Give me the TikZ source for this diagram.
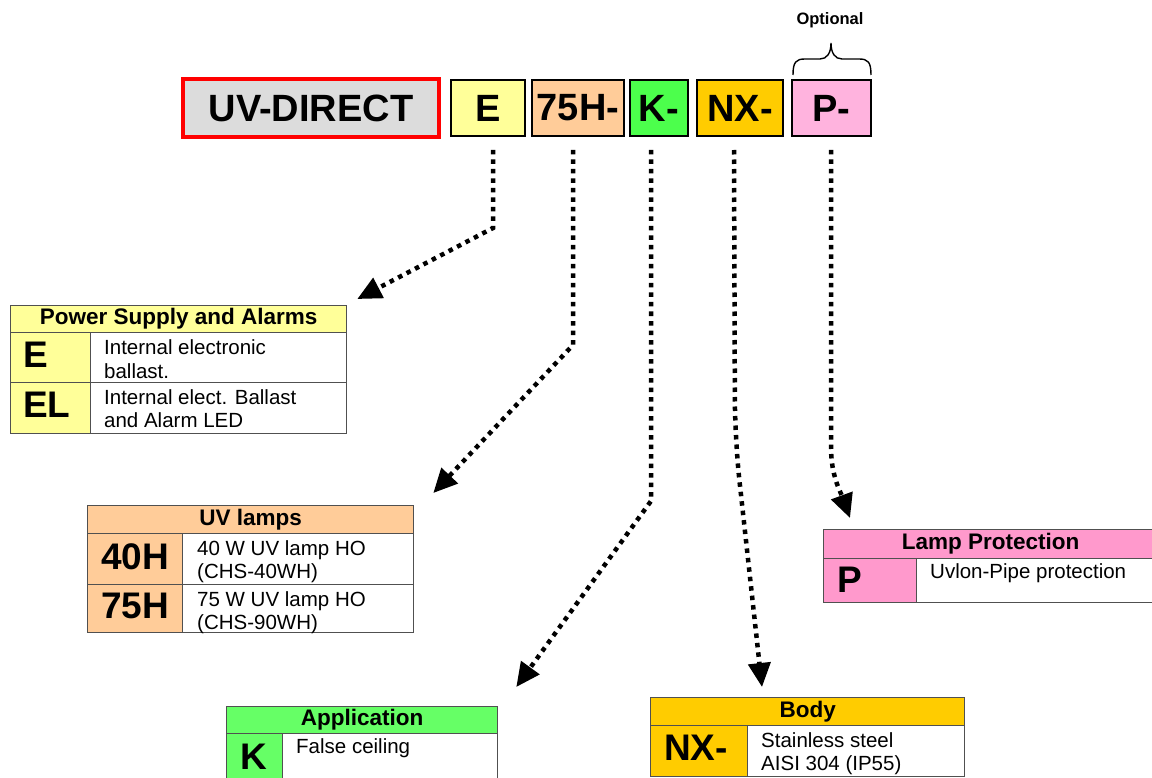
\documentclass[tikz,border=0pt]{standalone}
\usepackage{fontspec}
\setmainfont{Liberation Sans}
\usetikzlibrary{arrows.meta,calc}
\definecolor{cYel}{HTML}{FFFF99}
\definecolor{cOra}{HTML}{FFCC99}
\definecolor{cGrnTop}{HTML}{4CFF4C}
\definecolor{cGrn}{HTML}{66FF66}
\definecolor{cGold}{HTML}{FFCC00}
\definecolor{cPinkTop}{HTML}{FFB3DE}
\definecolor{cPink}{HTML}{FF99CC}
\definecolor{cGray}{HTML}{DCDCDC}
\definecolor{cRed}{HTML}{FF0000}
\definecolor{cLine}{HTML}{505050}
\newcommand\fTop{\fontsize{38}{40}\selectfont\bfseries}
\newcommand\fCode{\fontsize{37}{40}\selectfont\bfseries}
\newcommand\fHead{\fontsize{22.5}{25}\selectfont\bfseries}
\newcommand\fDesc{\fontsize{20.5}{23.5}\selectfont}
\newcommand\fOpt{\fontsize{16.5}{18}\selectfont\bfseries}
\begin{document}
\begin{tikzpicture}[x=1pt,y=-1pt,
 topbox/.style={draw=black, line width=2pt, inner sep=0pt, minimum height=56pt, font=\fTop},
 cell/.style={draw=cLine, line width=1.3pt, inner sep=0pt, anchor=north west},
 hdr/.style={cell, font=\fHead},
 codetxt/.style={inner sep=0pt, anchor=west, font=\fCode},
 desctxt/.style={inner sep=0pt, anchor=north west, font=\fDesc, align=left},
 darr/.style={line width=4.5pt, dash pattern=on 4.5pt off 5pt, -{Triangle[length=24pt,width=22pt]}},
]
\useasboundingbox (0,0) rectangle (1152,778);
\clip (0,0) rectangle (1152,778);

% ---- top code boxes ----
\node[topbox, draw=cRed, line width=4pt, fill=cGray, minimum width=256pt, minimum height=58pt] (bUV) at (311,108) {UV-DIRECT};
\node[topbox, fill=cYel, minimum width=74pt] (bE) at (488,108) {E};
\node[topbox, fill=cOra, minimum width=92pt] (bH) at (578,108) {75H-};
\node[topbox, fill=cGrnTop, minimum width=58pt] (bK) at (659,108) {K-};
\node[topbox, fill=cGold, minimum width=86pt] (bNX) at (740,108) {NX-};
\node[topbox, fill=cPinkTop, minimum width=79pt] (bP) at (831.5,108) {P-};

% optional brace
\node[font=\fOpt, inner sep=0pt, anchor=base] (opt) at (830,25) {Optional};
\draw[line width=1.4pt] (793,75) .. controls (793,62) and (796,59) .. (805,59) -- (820,59)
  .. controls (827,59) and (831,53) .. (831,43)
  .. controls (831,53) and (835,59) .. (842,59) -- (859,59)
  .. controls (868,59) and (871,62) .. (871,75);

% ---- Power Supply and Alarms ----
\node[hdr, fill=cYel, minimum width=336pt, minimum height=27pt] (psHead) at (10,305) {Power Supply and Alarms};
\node[cell, fill=cYel, minimum width=80pt, minimum height=50pt] (psC1) at (10,332) {};
\node[cell, minimum width=256pt, minimum height=50pt] (psD1) at (90,332) {};
\node[cell, fill=cYel, minimum width=80pt, minimum height=51pt] (psC2) at (10,382) {};
\node[cell, minimum width=256pt, minimum height=51pt] (psD2) at (90,382) {};
\node[codetxt] (psE) at (23,355) {E};
\node[codetxt] (psEL) at (23,405) {EL};
\node[desctxt] (psT1) at (104,339.5) {Internal electronic\\ballast.};
\node[desctxt] (psT2) at (104,389) {Internal elect. Ballast\\and Alarm LED};

% ---- UV lamps ----
\node[hdr, fill=cOra, minimum width=326pt, minimum height=28pt] (uvHead) at (87,505) {UV lamps};
\node[cell, fill=cOra, minimum width=95pt, minimum height=51pt] (uvC1) at (87,533) {};
\node[cell, minimum width=231pt, minimum height=51pt] (uvD1) at (182,533) {};
\node[cell, fill=cOra, minimum width=95pt, minimum height=48pt] (uvC2) at (87,584) {};
\node[cell, minimum width=231pt, minimum height=48pt] (uvD2) at (182,584) {};
\node[codetxt] (uv40) at (101,557) {40H};
\node[codetxt] (uv75) at (101,606) {75H};
\node[desctxt] (uvT1) at (197,540) {40 W UV lamp HO\\(CHS-40WH)};
\node[desctxt] (uvT2) at (197,591) {75 W UV lamp HO\\(CHS-90WH)};

% ---- Application ----
\node[hdr, fill=cGrn, minimum width=271pt, minimum height=27pt] (apHead) at (226,706) {Application};
\node[cell, fill=cGrn, minimum width=56pt, minimum height=80pt] (apC1) at (226,733) {};
\node[cell, minimum width=215pt, minimum height=80pt] (apD1) at (282,733) {};
\node[codetxt] (apK) at (240,757) {K};
\node[desctxt] (apT1) at (296,738) {False ceiling};

% ---- Body ----
\node[hdr, fill=cGold, minimum width=314pt, minimum height=28pt] (boHead) at (650,697) {Body};
\node[cell, fill=cGold, minimum width=97pt, minimum height=51pt] (boC1) at (650,725) {};
\node[cell, minimum width=217pt, minimum height=51pt] (boD1) at (747,725) {};
\node[codetxt] (boNX) at (664,748) {NX-};
\node[desctxt] (boT1) at (761,732) {Stainless steel\\AISI 304 (IP55)};

% ---- Lamp Protection ----
\node[hdr, fill=cPink, minimum width=334pt, minimum height=29pt] (lpHead) at (823,529) {Lamp Protection};
\node[cell, fill=cPink, minimum width=93pt, minimum height=44pt] (lpC1) at (823,558) {};
\node[cell, minimum width=241pt, minimum height=44pt] (lpD1) at (916,558) {};
\node[codetxt] (lpP) at (837,580) {P};
\node[desctxt] (lpT1) at (930,563) {Uvlon-Pipe protection};

% ---- connectors ----
\coordinate (sE) at ($(bE.south)+(5,13)$);
\coordinate (kE) at ($(bE.south)+(5,91)$);
\coordinate (tE) at ($(psHead.north east)+(10,-6)$);
\draw[darr] (sE) -- (kE) -- (tE);

\coordinate (sH) at ($(bH.south)+(-5,13)$);
\coordinate (kH) at ($(bH.south)+(-5,208)$);
\coordinate (tH) at ($(uvHead.north east)+(19,-12)$);
\draw[darr] (sH) -- (kH) -- (tH);

\coordinate (sK) at ($(bK.south)+(-8,13)$);
\coordinate (kK) at ($(bK.south)+(-8,364)$);
\coordinate (tK) at ($(apHead.north east)+(18,-19)$);
\draw[darr] (sK) -- (kK) -- (tK);

\coordinate (sN) at ($(bNX.south)+(-6,13)$);
\coordinate (kN) at ($(bNX.south)+(-5,303)$);
\coordinate (tN) at ($(boHead.north west)+(112,-10)$);
\draw[darr, rounded corners=40pt] (sN) -- (kN) -- (tN);

\coordinate (sP) at ($(bP.south)+(-0.5,13)$);
\coordinate (kP) at ($(bP.south)+(-0.5,310)$);
\coordinate (tP) at ($(lpHead.north west)+(27,-11)$);
\draw[darr] (sP) -- (kP) to[out=-90,in=110] (tP);
\end{tikzpicture}
\end{document}
